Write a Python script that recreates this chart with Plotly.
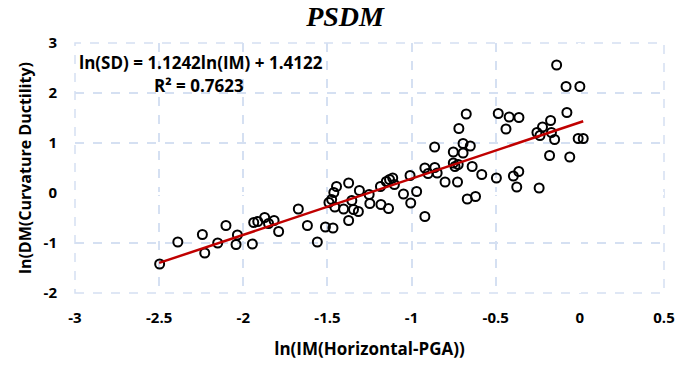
import plotly.graph_objects as go

# ---- data ----
ln_im = [
    -2.497, -2.389, -2.243, -2.229, -2.152, -2.103, -2.035, -2.043, -1.946, -1.938,
    -1.914, -1.873, -1.850, -1.817, -1.790, -1.673, -1.619, -1.560, -1.512, -1.467,
    -1.491, -1.475, -1.462, -1.446, -1.456, -1.404, -1.374, -1.374, -1.355, -1.345,
    -1.316, -1.310, -1.252, -1.248, -1.185, -1.182, -1.137, -1.150, -1.131, -1.112,
    -1.102, -1.048, -1.009, -1.005, -0.970, -0.921, -0.921, -0.902, -0.862, -0.848,
    -0.801, -0.863, -0.752, -0.694, -0.651, -0.694, -0.752, -0.742, -0.723, -0.640,
    -0.727, -0.669, -0.620, -0.583, -0.675, -0.719, -0.496, -0.485, -0.420, -0.362,
    -0.439, -0.395, -0.363, -0.375, -0.242, -0.138, -0.082, 0.000, -0.077, -0.174,
    -0.222, -0.255, -0.237, -0.169, -0.150, -0.010, 0.020, -0.180, -0.060,
]
ln_dm = [
    -1.42, -0.98, -0.83, -1.20, -1.00, -0.65, -0.84, -1.03, -1.02, -0.59,
    -0.57, -0.49, -0.61, -0.55, -0.77, -0.32, -0.65, -0.98, -0.68, -0.70,
    -0.19, -0.13, 0.01, 0.13, -0.28, -0.32, 0.20, -0.55, -0.15, -0.33,
    -0.37, 0.05, -0.03, -0.21, 0.13, -0.23, -0.31, 0.23, 0.27, 0.30,
    0.17, -0.02, 0.35, -0.20, 0.03, -0.47, 0.50, 0.39, 0.51, 0.40,
    0.22, 0.92, 0.82, 0.99, 0.94, 0.80, 0.60, 0.53, 0.57, 0.53,
    0.22, -0.12, -0.07, 0.37, 1.58, 1.29, 0.30, 1.59, 1.52, 1.51,
    1.28, 0.34, 0.43, 0.12, 0.10, 2.56, 2.13, 2.13, 1.61, 1.45,
    1.32, 1.21, 1.15, 1.21, 1.07, 1.09, 1.09, 0.75, 0.72,
]
slope = 1.1242
intercept = 1.4122
r_squared = 0.7623
trend_x = [-2.5, 0.02]
trend_y = [slope * v + intercept for v in trend_x]

x_ticks = [-3, -2.5, -2, -1.5, -1, -0.5, 0, 0.5]
y_ticks = [-2, -1, 0, 1, 2, 3]

FONT = "Open Sans"
GRID = "#D5E0F2"

fig = go.Figure()
fig.add_trace(go.Scatter(
    x=ln_im, y=ln_dm, mode="markers",
    marker=dict(symbol="circle-open", size=9, color="black",
                line=dict(width=2, color="black")),
    showlegend=False, hoverinfo="skip",
))
fig.add_trace(go.Scatter(
    x=trend_x, y=trend_y, mode="lines",
    line=dict(color="#C00000", width=2.5),
    showlegend=False, hoverinfo="skip",
))

fig.update_layout(
    width=686, height=370,
    margin=dict(l=75, r=11, t=43, b=77),
    paper_bgcolor="white", plot_bgcolor="white",
    title=dict(text="<b><i>PSDM</i></b>", x=0.503, xanchor="center",
               y=0.955, yanchor="middle",
               font=dict(family="Liberation Serif", size=28, color="black")),
    font=dict(family=FONT, color="black"),
)
fig.update_xaxes(
    range=[-3, 0.5], tickvals=x_ticks, ticktext=[f"<b>{t:g}</b>" for t in x_ticks],
    tickfont=dict(family=FONT, size=15, color="black"),
    showgrid=True, gridcolor=GRID, gridwidth=1.5, griddash="dash",
    zeroline=True, zerolinecolor="white", zerolinewidth=3,
    showline=False, ticks="outside", ticklen=11, tickcolor="rgba(0,0,0,0)",
    title=dict(text="<b>ln(IM(Horizontal-PGA))</b>",
               font=dict(family=FONT, size=17, color="black"), standoff=17),
)
fig.update_yaxes(
    range=[-2, 3], tickvals=y_ticks, ticktext=[f"<b>{t:g}</b>" for t in y_ticks],
    tickfont=dict(family=FONT, size=15, color="black"),
    showgrid=True, gridcolor=GRID, gridwidth=1.5, griddash="dash",
    zeroline=True, zerolinecolor="white", zerolinewidth=3,
    showline=False, ticks="outside", ticklen=14, tickcolor="rgba(0,0,0,0)",
    title=dict(text="<b>ln(DM(Curvature Ductility)</b>",
               font=dict(family=FONT, size=16, color="black"), standoff=7),
)
# frame (dashed like the grid)
fig.add_shape(type="rect", xref="paper", yref="paper", x0=0, y0=0, x1=1, y1=1,
              line=dict(color=GRID, width=1.5, dash="dash"), layer="below")

fig.add_annotation(
    xref="paper", yref="paper", x=0.003, y=0.92, xanchor="left", yanchor="middle",
    text=f"<b>ln(SD) = {slope:.4f}ln(IM) + {intercept:.4f}</b>", showarrow=False,
    font=dict(family=FONT, size=17, color="black"),
)
fig.add_annotation(
    xref="paper", yref="paper", x=0.21, y=0.83, xanchor="center", yanchor="middle",
    text=f"<b>R² = {r_squared:.4f}</b>", showarrow=False,
    font=dict(family=FONT, size=17, color="black"),
)

fig.write_html("out.html")
